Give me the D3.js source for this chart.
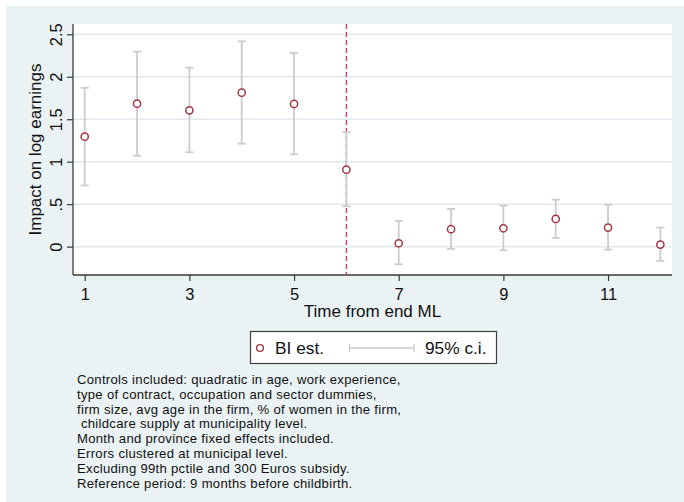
<!DOCTYPE html>
<html>
<head>
<meta charset="utf-8">
<script src="https://cdn.jsdelivr.net/npm/d3@7"></script>
<style>
  html, body { margin: 0; padding: 0; background: #ffffff; }
  svg { display: block; font-family: "Liberation Sans", Arial, sans-serif; }
</style>
</head>
<body>
<svg id="chart" width="684" height="502"></svg>
<script>
// Event-time estimates (months from end of maternity leave) with 95% CIs
const months   = [1, 2, 3, 4, 5, 6, 7, 8, 9, 10, 11, 12];
const estimate = [1.295, 1.683, 1.605, 1.813, 1.680, 0.906, 0.040, 0.205, 0.216, 0.326, 0.224, 0.024];
const ciLow    = [0.720, 1.071, 1.111, 1.212, 1.087, 0.475, -0.207, -0.027, -0.043, 0.102, -0.035, -0.168];
const ciHigh   = [1.870, 2.295, 2.107, 2.417, 2.280, 1.346, 0.302, 0.444, 0.483, 0.553, 0.494, 0.224];
const xTicks   = [1, 3, 5, 7, 9, 11];
const yTicks   = [0, 0.5, 1, 1.5, 2, 2.5];
const yTickLabels = ["0", ".5", "1", "1.5", "2", "2.5"];
const eventMonth = 6;
const legendLabels = ["BI est.", "95% c.i."];
const notes = [
  "Controls included: quadratic in age, work experience,",
  "type of contract, occupation and sector dummies,",
  "firm size, avg age in the firm, % of women in the firm,",
  " childcare supply at municipality level.",
  "Month and province fixed effects included.",
  "Errors clustered at municipal level.",
  "Excluding 99th pctile and 300 Euros subsidy.",
  "Reference period: 9 months before childbirth."
];

const svg = d3.select("#chart");
const W = 684, H = 502;
const plot = { left: 73, right: 672, top: 24, bottom: 275 };

const markerColor = "#a2363f";
const ciColor = "#cccccc";
const gridColor = "#e1eaee";
const axisColor = "#3a3a3a";

// graph region background
svg.append("rect").attr("x", 6).attr("y", 6).attr("width", W - 6).attr("height", H - 6)
  .attr("fill", "#eaf2f3");
// plot region
svg.append("rect").attr("x", plot.left).attr("y", plot.top)
  .attr("width", plot.right - plot.left).attr("height", plot.bottom - plot.top)
  .attr("fill", "#ffffff");

const x = d3.scaleLinear().domain([0.776, 12.222]).range([plot.left, plot.right]);
const y = d3.scaleLinear().domain([-0.334, 2.621]).range([plot.bottom, plot.top]);

// horizontal gridlines
svg.append("g").selectAll("line").data(yTicks).join("line")
  .attr("x1", plot.left).attr("x2", plot.right)
  .attr("y1", d => y(d)).attr("y2", d => y(d))
  .attr("stroke", gridColor).attr("stroke-width", 1.5);

// y axis
const yAxis = d3.axisLeft(y).tickValues(yTicks)
  .tickFormat((d, i) => yTickLabels[i]).tickSize(6).tickPadding(5);
const gy = svg.append("g").attr("transform", `translate(${plot.left},0)`).call(yAxis);
gy.select(".domain").attr("stroke", axisColor).attr("stroke-width", 1.3)
  .attr("d", `M0,${plot.top}V${plot.bottom}`);
gy.selectAll(".tick line").attr("stroke", axisColor).attr("stroke-width", 1.2);
gy.selectAll(".tick text")
  .attr("font-size", 16.5).attr("fill", "#111")
  .attr("font-family", "Liberation Sans, Arial, sans-serif")
  .attr("transform", "rotate(-90)")
  .attr("x", 0).attr("y", -11)
  .attr("dy", 0)
  .attr("text-anchor", "middle");

// x axis
const xAxis = d3.axisBottom(x).tickValues(xTicks).tickSize(6).tickPadding(6).tickFormat(d3.format("d"));
const gx = svg.append("g").attr("transform", `translate(0,${plot.bottom})`).call(xAxis);
gx.select(".domain").attr("stroke", axisColor).attr("stroke-width", 1.3)
  .attr("d", `M${plot.left},0H${plot.right}`);
gx.selectAll(".tick line").attr("stroke", axisColor).attr("stroke-width", 1.2);
gx.selectAll(".tick text").attr("font-size", 16.5).attr("fill", "#111")
  .attr("font-family", "Liberation Sans, Arial, sans-serif")
  .attr("dy", 0).attr("y", 25);

// axis titles
svg.append("text").attr("x", (plot.left + plot.right) / 2).attr("y", 317)
  .attr("text-anchor", "middle").attr("font-size", 17).attr("fill", "#111")
  .text("Time from end ML");
svg.append("text")
  .attr("transform", `translate(41,${(plot.top + plot.bottom) / 2}) rotate(-90)`)
  .attr("text-anchor", "middle").attr("font-size", 17).attr("fill", "#111")
  .text("Impact on log earnings");

// vertical event line
svg.append("line")
  .attr("x1", x(eventMonth)).attr("x2", x(eventMonth))
  .attr("y1", plot.top).attr("y2", plot.bottom)
  .attr("stroke", "#e2305c").attr("stroke-width", 1.3)
  .attr("stroke-dasharray", "5,3");

// confidence intervals
const rows = months.map((m, i) => ({ m, est: estimate[i], lo: ciLow[i], hi: ciHigh[i] }));
const ci = svg.append("g").attr("stroke", ciColor).attr("stroke-width", 1.8).attr("fill", "none");
ci.selectAll("line.bar").data(rows).join("line").attr("class", "bar")
  .attr("x1", d => x(d.m)).attr("x2", d => x(d.m))
  .attr("y1", d => y(d.lo)).attr("y2", d => y(d.hi));
ci.selectAll("line.capHi").data(rows).join("line").attr("class", "capHi")
  .attr("x1", d => x(d.m) - 4).attr("x2", d => x(d.m) + 4)
  .attr("y1", d => y(d.hi)).attr("y2", d => y(d.hi));
ci.selectAll("line.capLo").data(rows).join("line").attr("class", "capLo")
  .attr("x1", d => x(d.m) - 4).attr("x2", d => x(d.m) + 4)
  .attr("y1", d => y(d.lo)).attr("y2", d => y(d.lo));

// point estimates
svg.append("g").selectAll("circle").data(rows).join("circle")
  .attr("cx", d => x(d.m)).attr("cy", d => y(d.est)).attr("r", 3.6)
  .attr("fill", "#ffffff").attr("stroke", markerColor).attr("stroke-width", 1.5);

// legend
const lg = svg.append("g");
lg.append("rect").attr("x", 250.5).attr("y", 331.5).attr("width", 246).attr("height", 32)
  .attr("fill", "#ffffff").attr("stroke", "#404040").attr("stroke-width", 1.2);
lg.append("circle").attr("cx", 260).attr("cy", 348).attr("r", 3.4)
  .attr("fill", "#ffffff").attr("stroke", markerColor).attr("stroke-width", 1.4);
lg.append("text").attr("x", 275).attr("y", 354).attr("font-size", 17.3).attr("fill", "#111")
  .text(legendLabels[0]);
lg.append("line").attr("x1", 349.5).attr("x2", 414).attr("y1", 348).attr("y2", 348)
  .attr("stroke", ciColor).attr("stroke-width", 1.6);
[349.5, 414].forEach(cx => lg.append("line").attr("x1", cx).attr("x2", cx)
  .attr("y1", 344).attr("y2", 352).attr("stroke", ciColor).attr("stroke-width", 1.4));
lg.append("text").attr("x", 425).attr("y", 354).attr("font-size", 17.3).attr("fill", "#111")
  .text(legendLabels[1]);

// note block under the legend
const note = svg.append("text")
  .attr("x", 77).attr("y", 384)
  .attr("font-size", 13.1).attr("letter-spacing", 0.3).attr("fill", "#111")
  .attr("xml:space", "preserve").style("white-space", "pre");
note.selectAll("tspan").data(notes).join("tspan")
  .attr("x", 77).attr("dy", (d, i) => i === 0 ? 0 : 14.8)
  .text(d => d);
</script>
</body>
</html>
